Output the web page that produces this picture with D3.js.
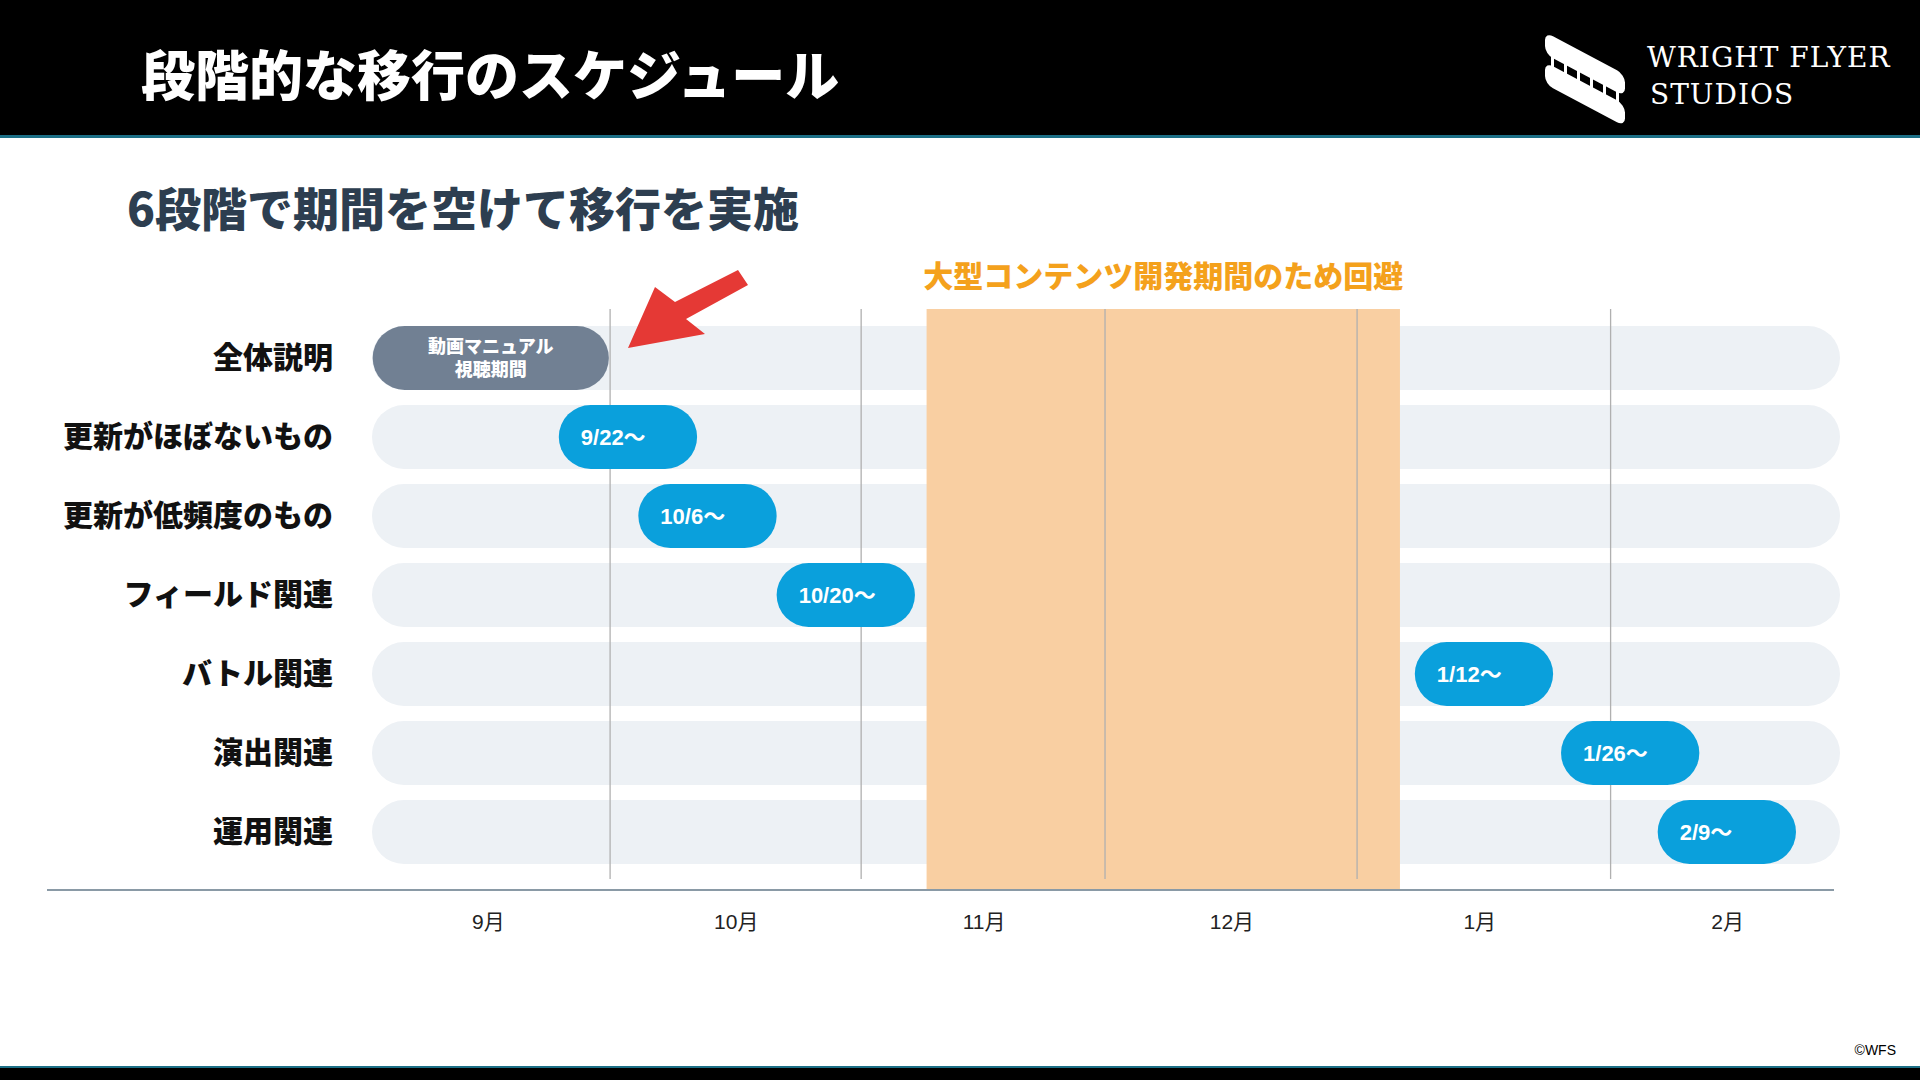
<html>
<head>
<meta charset="utf-8">
<style>
  body { margin: 0; background: #fff; }
  svg text { font-family: "Noto Sans CJK JP", "Liberation Sans", sans-serif; }
</style>
</head>
<body>
<svg id="chart" width="1920" height="1080"></svg>
<script src="https://cdn.jsdelivr.net/npm/d3@7"></script>
<script>
// data (x in month units: 0 = start of Sept)
let rows = ["全体説明", "更新がほぼないもの", "更新が低頻度のもの", "フィールド関連", "バトル関連", "演出関連", "運用関連"]
let months = ["9月", "10月", "11月", "12月", "1月", "2月"]
let pillStart = [0.035, 0.786, 1.107, 1.665, 4.24, 4.83, 5.22]
let pillEnd = [0.988, 1.344, 1.665, 2.223, 4.798, 5.388, 5.778]
let pillLabel = [["動画マニュアル", "視聴期間"], ["9/22〜"], ["10/6〜"], ["10/20〜"], ["1/12〜"], ["1/26〜"], ["2/9〜"]]
let blockedPeriod = [2.27, 4.18]
let boundaries = [0.993, 2.006, 2.99, 4.007, 5.03]

let svg = d3.select("#chart")

// header
svg.append("rect").attr("width", 1920).attr("height", 136).attr("fill", "#000")
svg.append("rect").attr("y", 135).attr("width", 1920).attr("height", 3).attr("fill", "#1c6f86")
svg.append("rect").attr("y", 1066).attr("width", 1920).attr("height", 14).attr("fill", "#000")
svg.append("rect").attr("y", 1066).attr("width", 1920).attr("height", 2).attr("fill", "#1c6f86")
svg.append("text").text("段階的な移行のスケジュール")
  .attr("x", 141).attr("y", 96).attr("fill", "#fff")
  .style("font-size", "54px").style("font-weight", "900")

// logo
let logo = svg.append("g").attr("transform", "translate(1545,32) skewY(28)")
logo.append("rect").attr("width", 80).attr("height", 22).attr("rx", 8).attr("fill", "#fff")
logo.append("rect").attr("y", 30).attr("width", 80).attr("height", 22).attr("rx", 8).attr("fill", "#fff")
for (let i = 0; i < 6; i++) {
  logo.append("rect").attr("x", 6 + i * 13).attr("y", 18).attr("width", 3).attr("height", 16).attr("fill", "#fff")
}
svg.append("text").text("WRIGHT FLYER").attr("x", 1647).attr("y", 67)
  .attr("fill", "#fff").style("font-family", "DejaVu Serif").style("font-size", "28px").style("letter-spacing", "1px")
svg.append("text").text("STUDIOS").attr("x", 1650).attr("y", 104)
  .attr("fill", "#fff").style("font-family", "DejaVu Serif").style("font-size", "28px").style("letter-spacing", "1px")

svg.append("text").text("6段階で期間を空けて移行を実施")
  .attr("x", 127).attr("y", 226).attr("fill", "#2d3e50")
  .style("font-size", "46px").style("font-weight", "900")

// scales
let x = d3.scaleLinear().domain([0, 6]).range([364, 1851])
let y = d3.scaleBand().domain(rows).range([326, 864]).paddingInner(0.19).paddingOuter(0)
let rowH = y.bandwidth()
let plotTop = 309, axisY = 890

// row backgrounds
svg.selectAll("rect.rowbg").data(rows).join("rect").attr("class", "rowbg")
  .attr("x", 372).attr("width", 1468).attr("y", d => y(d)).attr("height", rowH)
  .attr("rx", rowH / 2).attr("fill", "#edf1f5")

// blocked period
svg.append("rect").attr("x", x(blockedPeriod[0])).attr("width", x(blockedPeriod[1]) - x(blockedPeriod[0]))
  .attr("y", plotTop).attr("height", axisY - plotTop).attr("fill", "#f9cfa2")
svg.append("text").text("大型コンテンツ開発期間のため回避")
  .attr("x", (x(blockedPeriod[0]) + x(blockedPeriod[1])) / 2).attr("y", 287)
  .attr("text-anchor", "middle").attr("fill", "#f4a11c")
  .style("font-size", "30px").style("font-weight", "900")

// month boundaries
svg.selectAll("line.grid").data(boundaries).join("line").attr("class", "grid")
  .attr("x1", d => x(d)).attr("x2", d => x(d)).attr("y1", plotTop).attr("y2", 879)
  .attr("stroke", "#b0b0b0").attr("stroke-width", 1.3)

// axis
svg.append("line").attr("x1", 47).attr("x2", 1834).attr("y1", axisY).attr("y2", axisY)
  .attr("stroke", "#8a9aa6").attr("stroke-width", 2)
let xAxis = d3.axisBottom(x).tickValues(months.map((m, i) => i + 0.5))
  .tickFormat((d, i) => months[i]).tickSize(0).tickPadding(24)
let ax = svg.append("g").attr("transform", `translate(0,${axisY})`).call(xAxis)
ax.select(".domain").remove()
ax.selectAll("text").style("font-size", "21px").style("font-family", "Liberation Sans, Noto Sans CJK JP").attr("fill", "#222")

// row labels
svg.selectAll("text.rowlab").data(rows).join("text").attr("class", "rowlab")
  .text(d => d).attr("x", 333).attr("y", d => y(d) + rowH / 2 + 10)
  .attr("text-anchor", "end").attr("fill", "#111")
  .style("font-size", "30px").style("font-weight", "900")

// pills
let pills = svg.selectAll("g.pill").data(rows).join("g").attr("class", "pill")
pills.append("rect")
  .attr("x", (d, i) => x(pillStart[i])).attr("width", (d, i) => x(pillEnd[i]) - x(pillStart[i]))
  .attr("y", d => y(d)).attr("height", rowH).attr("rx", rowH / 2)
  .attr("fill", (d, i) => i === 0 ? "#718093" : "#0aa0dc")
pills.each(function (d, i) {
  let g = d3.select(this)
  let lab = pillLabel[i]
  if (lab.length === 2) {
    lab.forEach((t, k) => g.append("text").text(t)
      .attr("x", (x(pillStart[i]) + x(pillEnd[i])) / 2).attr("y", y(d) + 27 + k * 23)
      .attr("text-anchor", "middle").attr("fill", "#fff")
      .style("font-size", "18px").style("font-weight", "900"))
  } else {
    g.append("text").text(lab[0])
      .attr("x", x(pillStart[i]) + 22).attr("y", y(d) + rowH / 2 + 8)
      .attr("fill", "#fff").style("font-size", "22px").style("font-weight", "700")
      .style("font-family", "Liberation Sans, Noto Sans CJK JP")
  }
})

// arrow
svg.append("polygon")
  .attr("points", "628,348 655,287 675,302 738,270 748,285 686,319 705,334")
  .attr("fill", "#e53935")

svg.append("text").text("©WFS").attr("x", 1896).attr("y", 1055).attr("text-anchor", "end")
  .style("font-size", "14px").style("font-family", "Liberation Sans")
</script>
</body>
</html>
